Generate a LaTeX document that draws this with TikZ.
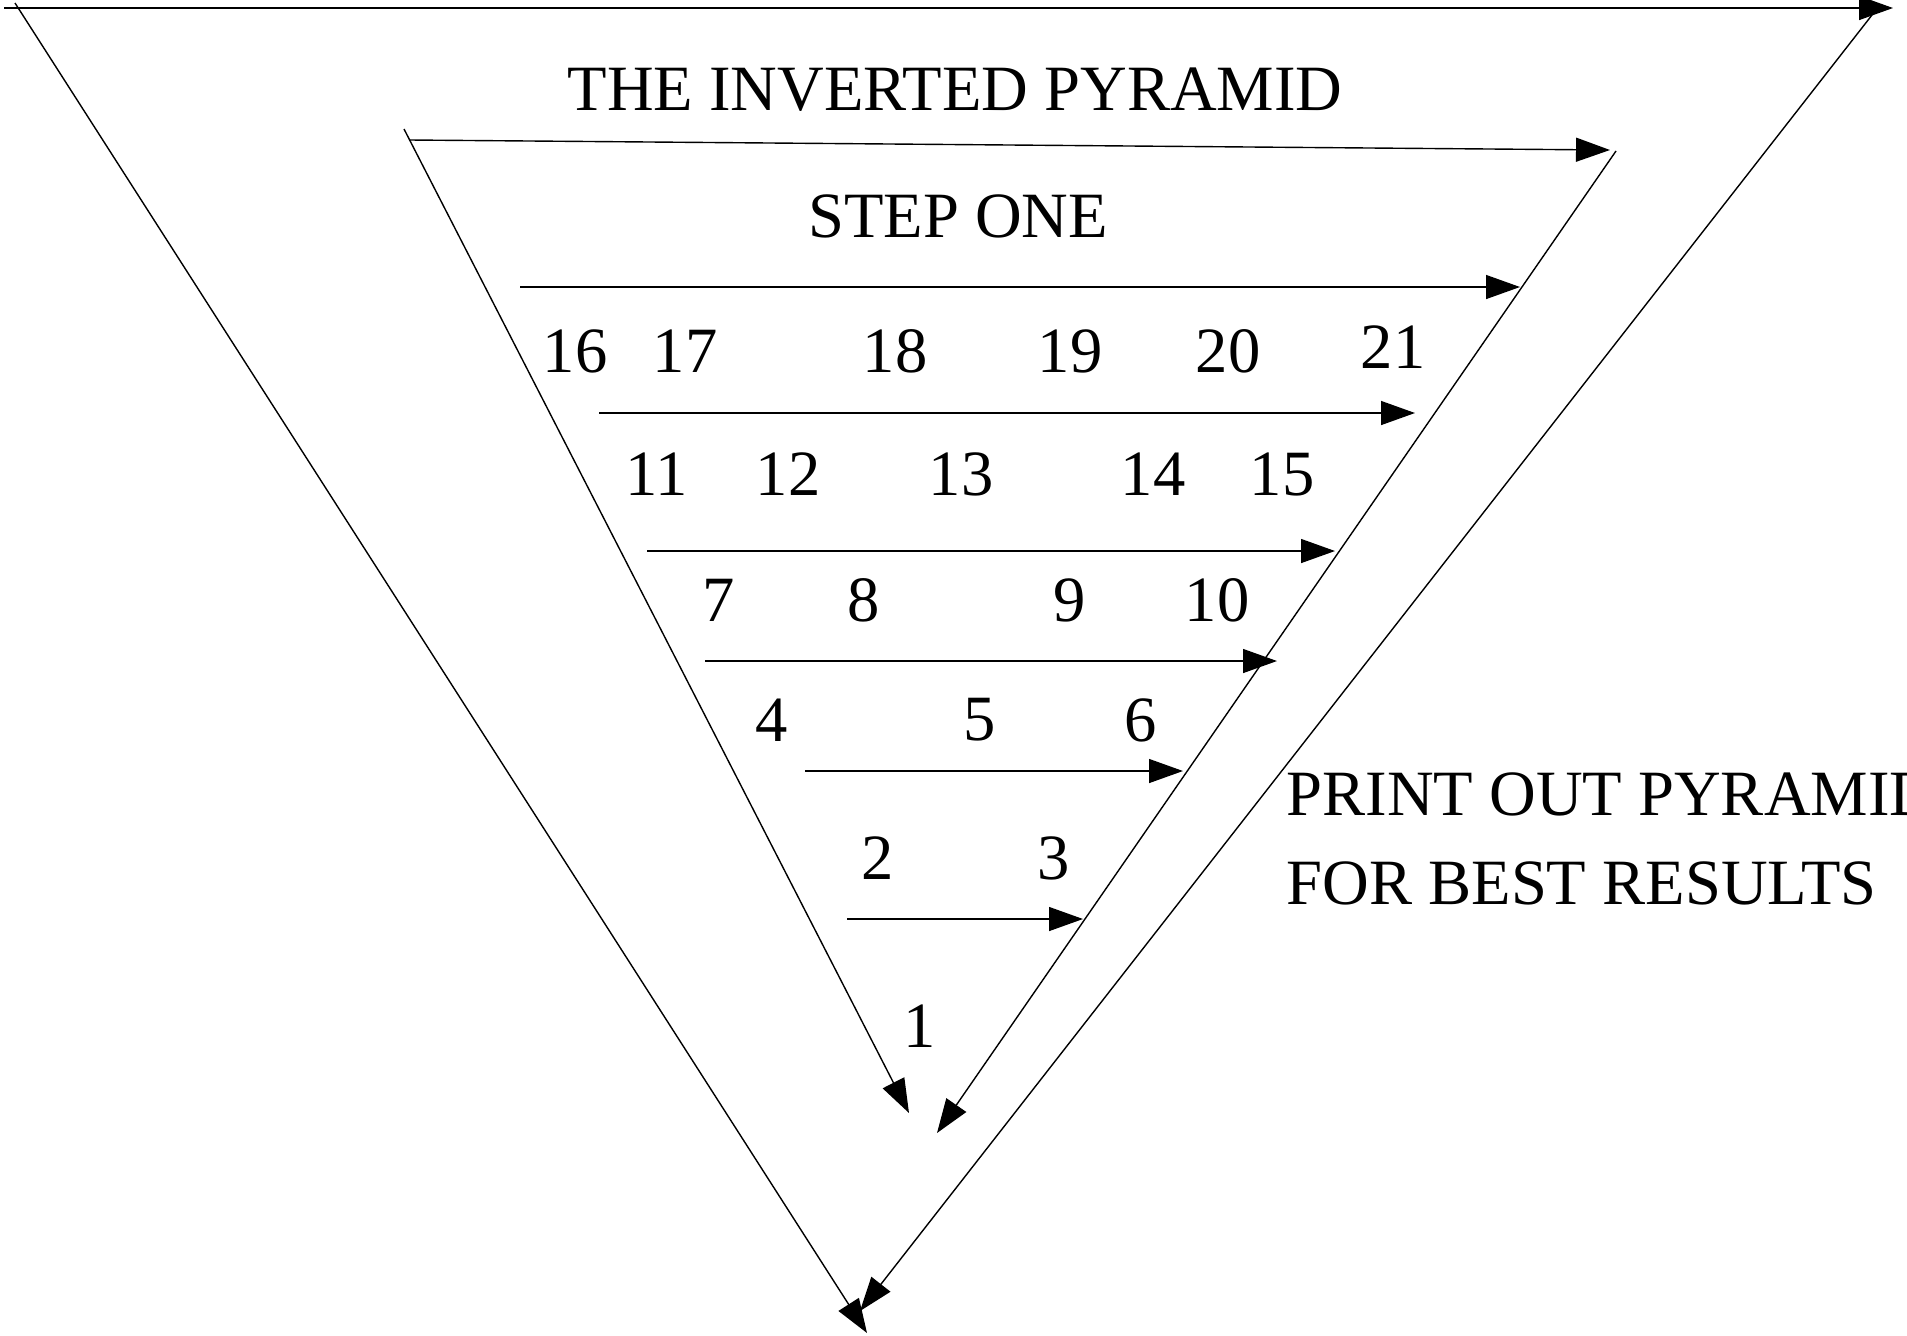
\documentclass[tikz,border=0pt]{standalone}
\usepackage{fontspec}
\setmainfont{Liberation Serif}
\usetikzlibrary{arrows.meta}

\begin{document}
\begin{tikzpicture}[x=0.5pt, y=-0.5pt, line width=0.7pt,
  arr/.style={-{Triangle[length=17pt, width=12pt]}},
  lbl/.style={inner sep=0pt, font=\fontsize{32.3}{38}\selectfont}]
\useasboundingbox (0,0) rectangle (1907,1335);
\clip (0,0) rectangle (1907,1335);
% outer pyramid
\coordinate (otl) at (4,8);      \coordinate (otr) at (1893,8);
\coordinate (ols) at (15,3);     \coordinate (olb) at (867,1333);
\coordinate (ors) at (1872,15);  \coordinate (orb) at (860,1311);
\draw[arr] (otl) -- (otr);
\draw[arr] (ols) -- (olb);
\draw[arr] (ors) -- (orb);
% step one pyramid
\coordinate (itl) at (410,140);  \coordinate (itr) at (1610,150);
\coordinate (ils) at (404,129);  \coordinate (ilb) at (909,1113);
\coordinate (irs) at (1616,151); \coordinate (irb) at (937,1133);
\draw[arr] (itl) -- (itr);
\draw[arr] (ils) -- (ilb);
\draw[arr] (irs) -- (irb);
% rows
\foreach \r/\y/\xa/\xb in {1/287/520/1520, 2/413/599/1415, 3/551/647/1335, 4/661/705/1277, 5/771/805/1183, 6/919/847/1083} {
  \coordinate (row\r a) at (\xa,\y);
  \coordinate (row\r b) at (\xb,\y);
  \draw[arr] (row\r a) -- (row\r b);
}
% numbers
\foreach \n/\x/\y in {16/575/351, 17/685/351, 18/895/351, 19/1070/351, 20/1228/351, 21/1393/347,
  11/657/474, 12/788/474, 13/961/474, 14/1153/474, 15/1282/474,
  7/719/600, 8/864/600, 9/1070/600, 10/1217/600,
  4/772/720, 5/980/720, 6/1141/720,
  2/878/858, 3/1054/858, 1/920/1026} {
  \node[lbl] (num\n) at (\x,\y) {\n};
}
% titles
\node[lbl] (title) at (955,90) {THE INVERTED PYRAMID};
\node[lbl] (stepone) at (958,216) {STEP ONE};
\node[lbl, anchor=west] (print) at (1286,794) {PRINT OUT PYRAMID};
\node[lbl, anchor=west] (best) at (1286,883) {FOR BEST RESULTS};
\end{tikzpicture}
\end{document}
